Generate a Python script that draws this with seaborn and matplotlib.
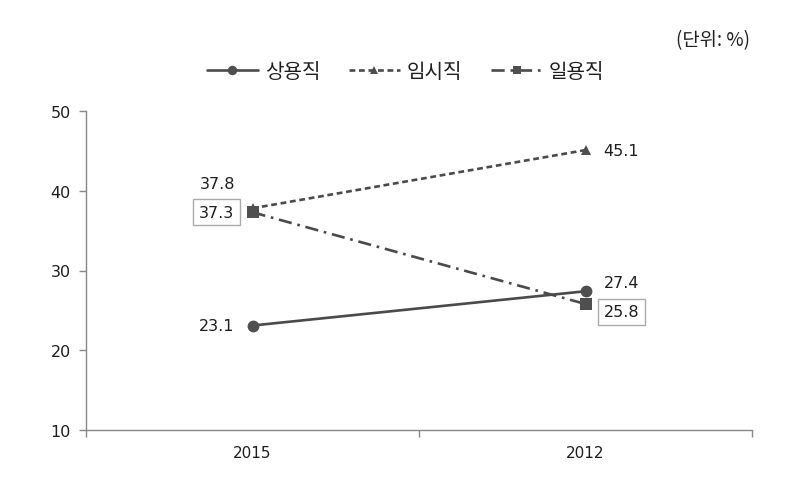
import matplotlib
matplotlib.use("Agg")
import matplotlib.pyplot as plt
import seaborn as sns
import pandas as pd
from matplotlib.ticker import FixedLocator

years = ["2015", "2012"]
series_names = ["상용직", "임시직", "일용직"]
regular = [23.1, 27.4]
temporary = [37.8, 45.1]
daily = [37.3, 25.8]
y_ticks = [10, 20, 30, 40, 50]

sns.set_theme(style="white")
plt.rcParams['font.family'] = ['DejaVu Sans', 'Noto Sans CJK KR']

NUM = ['DejaVu Sans']
KR = ['Noto Sans CJK KR', 'DejaVu Sans']
TXT = "#1e1e1e"

fig = plt.figure(figsize=(8.05, 4.81), dpi=100)
ax = fig.add_axes([86/805, 1-431/481, (752-86)/805, (431-112)/481])

xpos = list(range(len(years)))
vals = [regular, temporary, daily]
styles = [dict(linestyle="-", marker="o", markersize=8.5),
          dict(linestyle=(0, (2.2, 1.4)), marker="^", markersize=7),
          dict(linestyle=(0, (5, 2.2, 1, 2.2)), marker="s", markersize=8)]
color = "#4a4a4a"
for name, v, st in zip(series_names, vals, styles):
    df = pd.DataFrame({"x": xpos, "y": v})
    sns.lineplot(data=df, x="x", y="y", ax=ax, color=color, linewidth=1.9,
                 markeredgewidth=0, markerfacecolor="#4f4f4f", label=name, **st)

ax.set_xlim(-0.5, 1.5)
ax.set_ylim(10, 50)
ax.set_yticks(y_ticks)
ax.set_yticklabels([str(t) for t in y_ticks], fontfamily=NUM)
ax.set_xticks(xpos)
ax.set_xticklabels(years, fontfamily=NUM)
ax.xaxis.set_minor_locator(FixedLocator([-0.5, 0.5, 1.5]))
ax.tick_params(axis="x", which="major", length=0, pad=11, labelsize=11, labelcolor=TXT)
ax.tick_params(axis="x", which="minor", length=5, width=1, color="#888888", direction="out", bottom=True)
ax.tick_params(axis="y", length=5, width=1, color="#888888", direction="out", left=True,
               labelsize=11.5, labelcolor=TXT, pad=6)
ax.set_xlabel("")
ax.set_ylabel("")
for s in ["top", "right"]:
    ax.spines[s].set_visible(False)
for s in ["left", "bottom"]:
    ax.spines[s].set_color("#888888")
    ax.spines[s].set_linewidth(1)
ax.grid(False)

h, l = ax.get_legend_handles_labels()
ax.get_legend().remove()
fig.legend(h, l, loc="center", bbox_to_anchor=(0.504, 1-73/481), ncol=3, frameon=False,
           prop={'family': KR, 'size': 14.5}, handlelength=2.5, columnspacing=1.45,
           handletextpad=0.35, labelcolor=TXT, markerscale=0.8)

def lab(x, y, t, dx, dy, box=False):
    kw = {}
    if box:
        kw["bbox"] = dict(boxstyle="square,pad=0.35", fc="white", ec="#aaaaaa", lw=1)
    ax.annotate(t, (x, y), xytext=(dx, dy), textcoords="offset pixels",
                ha="center", va="center", fontsize=11.5, color=TXT, fontfamily=NUM, **kw)

lab(0, temporary[0], f"{temporary[0]}", -35, 25)
lab(0, daily[0], f"{daily[0]}", -36, 0, box=True)
lab(0, regular[0], f"{regular[0]}", -36, 0)
lab(1, temporary[1], f"{temporary[1]}", 36, 0)
lab(1, regular[1], f"{regular[1]}", 36, 9)
lab(1, daily[1], f"{daily[1]}", 36, -8, box=True)

fig.text(750/805, 1-41/481, "(단위: %)", ha="right", va="center", fontsize=13.5, color=TXT,
         family=KR)

fig.savefig("out.png", dpi=100)
